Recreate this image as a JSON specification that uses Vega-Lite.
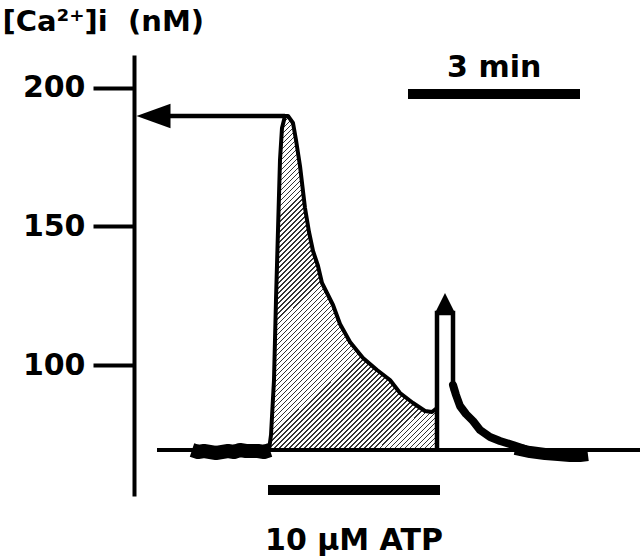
{
  "$schema": "https://vega.github.io/schema/vega-lite/v6.json",
  "width": 506,
  "height": 441,
  "autosize": {"type": "none"},
  "padding": {"left": 134, "top": 55, "right": 0, "bottom": 64},
  "background": "white",
  "config": {"view": {"stroke": null}, "font": "DejaVu Sans"},
  "datasets": {
    "trace": [
      {"seg": "pre", "t": 60.70, "v": 69.31},
      {"seg": "pre", "t": 66.98, "v": 68.59},
      {"seg": "pre", "t": 73.26, "v": 68.95},
      {"seg": "pre", "t": 79.53, "v": 68.59},
      {"seg": "pre", "t": 85.81, "v": 68.23},
      {"seg": "pre", "t": 92.09, "v": 68.59},
      {"seg": "pre", "t": 98.37, "v": 68.95},
      {"seg": "pre", "t": 104.65, "v": 68.59},
      {"seg": "pre", "t": 110.93, "v": 69.31},
      {"seg": "pre", "t": 117.21, "v": 68.95},
      {"seg": "pre", "t": 123.49, "v": 68.95},
      {"seg": "pre", "t": 129.77, "v": 68.95},
      {"seg": "pre", "t": 136.05, "v": 68.59},
      {"seg": "pre", "t": 142.33, "v": 69.31},
      {"seg": "peak", "t": 141.28, "v": 69.31},
      {"seg": "peak", "t": 143.37, "v": 74.73},
      {"seg": "peak", "t": 146.51, "v": 94.59},
      {"seg": "peak", "t": 148.60, "v": 123.47},
      {"seg": "peak", "t": 150.70, "v": 148.74},
      {"seg": "peak", "t": 152.79, "v": 174.01},
      {"seg": "peak", "t": 154.88, "v": 185.56},
      {"seg": "peak", "t": 158.02, "v": 189.89},
      {"seg": "peak", "t": 161.16, "v": 189.89},
      {"seg": "peak", "t": 166.40, "v": 187.36},
      {"seg": "peak", "t": 169.53, "v": 181.23},
      {"seg": "peak", "t": 173.72, "v": 171.84},
      {"seg": "peak", "t": 178.95, "v": 156.68},
      {"seg": "peak", "t": 183.14, "v": 148.01},
      {"seg": "peak", "t": 187.33, "v": 141.16},
      {"seg": "peak", "t": 192.56, "v": 135.74},
      {"seg": "peak", "t": 196.74, "v": 129.60},
      {"seg": "peak", "t": 201.98, "v": 125.99},
      {"seg": "peak", "t": 208.26, "v": 121.66},
      {"seg": "peak", "t": 215.58, "v": 114.80},
      {"seg": "peak", "t": 226.05, "v": 108.30},
      {"seg": "peak", "t": 239.65, "v": 102.53},
      {"seg": "peak", "t": 254.30, "v": 98.20},
      {"seg": "peak", "t": 267.91, "v": 94.59},
      {"seg": "peak", "t": 278.37, "v": 89.89},
      {"seg": "peak", "t": 291.98, "v": 86.28},
      {"seg": "peak", "t": 304.53, "v": 83.39},
      {"seg": "peak", "t": 311.86, "v": 83.03},
      {"seg": "peak", "t": 317.09, "v": 84.48},
      {"seg": "arrow", "t": 317.09, "v": 69.31},
      {"seg": "arrow", "t": 317.09, "v": 118.77},
      {"seg": "arrow", "t": 333.84, "v": 118.77},
      {"seg": "arrow", "t": 333.84, "v": 90.50},
      {"seg": "post", "t": 333.84, "v": 92.78},
      {"seg": "post", "t": 336.98, "v": 89.17},
      {"seg": "post", "t": 341.16, "v": 85.20},
      {"seg": "post", "t": 347.44, "v": 82.31},
      {"seg": "post", "t": 354.77, "v": 79.78},
      {"seg": "post", "t": 362.09, "v": 76.53},
      {"seg": "post", "t": 372.56, "v": 74.01},
      {"seg": "post", "t": 383.02, "v": 72.56},
      {"seg": "post", "t": 396.63, "v": 71.12},
      {"seg": "post", "t": 409.19, "v": 69.68},
      {"seg": "tail", "t": 398.72, "v": 69.68},
      {"seg": "tail", "t": 414.42, "v": 68.59},
      {"seg": "tail", "t": 430.12, "v": 67.87},
      {"seg": "tail", "t": 443.72, "v": 67.51},
      {"seg": "tail", "t": 456.28, "v": 67.15},
      {"seg": "tail", "t": 466.74, "v": 67.15},
      {"seg": "tail", "t": 475.12, "v": 67.51}
    ]
  },
  "encoding": {
    "x": {"field": "t", "type": "quantitative", "scale": {"domain": [0, 529.53], "nice": false, "zero": false}, "axis": null},
    "y": {
      "field": "v", "type": "quantitative",
      "scale": {"domain": [52.71, 211.91], "nice": false, "zero": false},
      "axis": {
        "values": [100, 150, 200],
        "title": "[Ca\u00b2\u207a]i\u00a0\u00a0(nM)",
        "titleAngle": 0, "titleAlign": "left", "titleBaseline": "alphabetic",
        "titleX": -132, "titleY": -25,
        "titleFont": "DejaVu Sans", "titleFontSize": 29, "titleFontWeight": "bold", "titleColor": "black",
        "domainColor": "black", "domainWidth": 4,
        "tickColor": "black", "tickWidth": 4, "tickSize": 41,
        "labelFont": "DejaVu Sans", "labelFontSize": 30, "labelFontWeight": "bold", "labelColor": "black", "labelPadding": 8,
        "grid": false
      }
    }
  },
  "layer": [
    {
      "data": {"name": "trace"},
      "transform": [{"filter": "datum.seg == 'peak'"}],
      "mark": {
        "type": "area", "opacity": 1,
        "fill": {"gradient": "linear", "x1": 0, "y1": 0, "x2": 0.604, "y2": 1.2, "stops": [
{"offset":0,"color":"#333"},{"offset":0.003,"color":"#333"},{"offset":0.003,"color":"#fff"},{"offset":0.01,"color":"#fff"},
{"offset":0.01,"color":"#333"},{"offset":0.013,"color":"#333"},{"offset":0.013,"color":"#fff"},{"offset":0.02,"color":"#fff"},
{"offset":0.02,"color":"#333"},{"offset":0.023,"color":"#333"},{"offset":0.023,"color":"#fff"},{"offset":0.03,"color":"#fff"},
{"offset":0.03,"color":"#333"},{"offset":0.033,"color":"#333"},{"offset":0.033,"color":"#fff"},{"offset":0.04,"color":"#fff"},
{"offset":0.04,"color":"#333"},{"offset":0.043,"color":"#333"},{"offset":0.043,"color":"#fff"},{"offset":0.05,"color":"#fff"},
{"offset":0.05,"color":"#333"},{"offset":0.053,"color":"#333"},{"offset":0.053,"color":"#fff"},{"offset":0.06,"color":"#fff"},
{"offset":0.06,"color":"#333"},{"offset":0.063,"color":"#333"},{"offset":0.063,"color":"#fff"},{"offset":0.07,"color":"#fff"},
{"offset":0.07,"color":"#333"},{"offset":0.073,"color":"#333"},{"offset":0.073,"color":"#fff"},{"offset":0.08,"color":"#fff"},
{"offset":0.08,"color":"#333"},{"offset":0.083,"color":"#333"},{"offset":0.083,"color":"#fff"},{"offset":0.09,"color":"#fff"},
{"offset":0.09,"color":"#333"},{"offset":0.093,"color":"#333"},{"offset":0.093,"color":"#fff"},{"offset":0.1,"color":"#fff"},
{"offset":0.1,"color":"#333"},{"offset":0.103,"color":"#333"},{"offset":0.103,"color":"#fff"},{"offset":0.11,"color":"#fff"},
{"offset":0.11,"color":"#333"},{"offset":0.113,"color":"#333"},{"offset":0.113,"color":"#fff"},{"offset":0.12,"color":"#fff"},
{"offset":0.12,"color":"#333"},{"offset":0.123,"color":"#333"},{"offset":0.123,"color":"#fff"},{"offset":0.13,"color":"#fff"},
{"offset":0.13,"color":"#333"},{"offset":0.133,"color":"#333"},{"offset":0.133,"color":"#fff"},{"offset":0.14,"color":"#fff"},
{"offset":0.14,"color":"#333"},{"offset":0.143,"color":"#333"},{"offset":0.143,"color":"#fff"},{"offset":0.15,"color":"#fff"},
{"offset":0.15,"color":"#333"},{"offset":0.153,"color":"#333"},{"offset":0.153,"color":"#fff"},{"offset":0.16,"color":"#fff"},
{"offset":0.16,"color":"#333"},{"offset":0.163,"color":"#333"},{"offset":0.163,"color":"#fff"},{"offset":0.17,"color":"#fff"},
{"offset":0.17,"color":"#333"},{"offset":0.173,"color":"#333"},{"offset":0.173,"color":"#fff"},{"offset":0.18,"color":"#fff"},
{"offset":0.18,"color":"#333"},{"offset":0.183,"color":"#333"},{"offset":0.183,"color":"#fff"},{"offset":0.19,"color":"#fff"},
{"offset":0.19,"color":"#333"},{"offset":0.193,"color":"#333"},{"offset":0.193,"color":"#fff"},{"offset":0.2,"color":"#fff"},
{"offset":0.2,"color":"#333"},{"offset":0.203,"color":"#333"},{"offset":0.203,"color":"#fff"},{"offset":0.21,"color":"#fff"},
{"offset":0.21,"color":"#333"},{"offset":0.213,"color":"#333"},{"offset":0.213,"color":"#fff"},{"offset":0.22,"color":"#fff"},
{"offset":0.22,"color":"#333"},{"offset":0.223,"color":"#333"},{"offset":0.223,"color":"#fff"},{"offset":0.23,"color":"#fff"},
{"offset":0.23,"color":"#333"},{"offset":0.233,"color":"#333"},{"offset":0.233,"color":"#fff"},{"offset":0.24,"color":"#fff"},
{"offset":0.24,"color":"#333"},{"offset":0.243,"color":"#333"},{"offset":0.243,"color":"#fff"},{"offset":0.25,"color":"#fff"},
{"offset":0.25,"color":"#333"},{"offset":0.253,"color":"#333"},{"offset":0.253,"color":"#fff"},{"offset":0.26,"color":"#fff"},
{"offset":0.26,"color":"#333"},{"offset":0.263,"color":"#333"},{"offset":0.263,"color":"#fff"},{"offset":0.27,"color":"#fff"},
{"offset":0.27,"color":"#333"},{"offset":0.273,"color":"#333"},{"offset":0.273,"color":"#fff"},{"offset":0.28,"color":"#fff"},
{"offset":0.28,"color":"#333"},{"offset":0.283,"color":"#333"},{"offset":0.283,"color":"#fff"},{"offset":0.29,"color":"#fff"},
{"offset":0.29,"color":"#333"},{"offset":0.293,"color":"#333"},{"offset":0.293,"color":"#fff"},{"offset":0.3,"color":"#fff"},
{"offset":0.3,"color":"#333"},{"offset":0.303,"color":"#333"},{"offset":0.303,"color":"#fff"},{"offset":0.31,"color":"#fff"},
{"offset":0.31,"color":"#333"},{"offset":0.313,"color":"#333"},{"offset":0.313,"color":"#fff"},{"offset":0.32,"color":"#fff"},
{"offset":0.32,"color":"#333"},{"offset":0.323,"color":"#333"},{"offset":0.323,"color":"#fff"},{"offset":0.33,"color":"#fff"},
{"offset":0.33,"color":"#333"},{"offset":0.333,"color":"#333"},{"offset":0.333,"color":"#fff"},{"offset":0.34,"color":"#fff"},
{"offset":0.34,"color":"#333"},{"offset":0.343,"color":"#333"},{"offset":0.343,"color":"#fff"},{"offset":0.35,"color":"#fff"},
{"offset":0.35,"color":"#333"},{"offset":0.353,"color":"#333"},{"offset":0.353,"color":"#fff"},{"offset":0.36,"color":"#fff"},
{"offset":0.36,"color":"#333"},{"offset":0.363,"color":"#333"},{"offset":0.363,"color":"#fff"},{"offset":0.37,"color":"#fff"},
{"offset":0.37,"color":"#333"},{"offset":0.373,"color":"#333"},{"offset":0.373,"color":"#fff"},{"offset":0.38,"color":"#fff"},
{"offset":0.38,"color":"#333"},{"offset":0.383,"color":"#333"},{"offset":0.383,"color":"#fff"},{"offset":0.39,"color":"#fff"},
{"offset":0.39,"color":"#333"},{"offset":0.393,"color":"#333"},{"offset":0.393,"color":"#fff"},{"offset":0.4,"color":"#fff"},
{"offset":0.4,"color":"#333"},{"offset":0.403,"color":"#333"},{"offset":0.403,"color":"#fff"},{"offset":0.41,"color":"#fff"},
{"offset":0.41,"color":"#333"},{"offset":0.413,"color":"#333"},{"offset":0.413,"color":"#fff"},{"offset":0.42,"color":"#fff"},
{"offset":0.42,"color":"#333"},{"offset":0.423,"color":"#333"},{"offset":0.423,"color":"#fff"},{"offset":0.43,"color":"#fff"},
{"offset":0.43,"color":"#333"},{"offset":0.433,"color":"#333"},{"offset":0.433,"color":"#fff"},{"offset":0.44,"color":"#fff"},
{"offset":0.44,"color":"#333"},{"offset":0.443,"color":"#333"},{"offset":0.443,"color":"#fff"},{"offset":0.45,"color":"#fff"},
{"offset":0.45,"color":"#333"},{"offset":0.453,"color":"#333"},{"offset":0.453,"color":"#fff"},{"offset":0.46,"color":"#fff"},
{"offset":0.46,"color":"#333"},{"offset":0.463,"color":"#333"},{"offset":0.463,"color":"#fff"},{"offset":0.47,"color":"#fff"},
{"offset":0.47,"color":"#333"},{"offset":0.473,"color":"#333"},{"offset":0.473,"color":"#fff"},{"offset":0.48,"color":"#fff"},
{"offset":0.48,"color":"#333"},{"offset":0.483,"color":"#333"},{"offset":0.483,"color":"#fff"},{"offset":0.49,"color":"#fff"},
{"offset":0.49,"color":"#333"},{"offset":0.493,"color":"#333"},{"offset":0.493,"color":"#fff"},{"offset":0.5,"color":"#fff"},
{"offset":0.5,"color":"#333"},{"offset":0.503,"color":"#333"},{"offset":0.503,"color":"#fff"},{"offset":0.51,"color":"#fff"},
{"offset":0.51,"color":"#333"},{"offset":0.513,"color":"#333"},{"offset":0.513,"color":"#fff"},{"offset":0.52,"color":"#fff"},
{"offset":0.52,"color":"#333"},{"offset":0.523,"color":"#333"},{"offset":0.523,"color":"#fff"},{"offset":0.53,"color":"#fff"},
{"offset":0.53,"color":"#333"},{"offset":0.533,"color":"#333"},{"offset":0.533,"color":"#fff"},{"offset":0.54,"color":"#fff"},
{"offset":0.54,"color":"#333"},{"offset":0.543,"color":"#333"},{"offset":0.543,"color":"#fff"},{"offset":0.55,"color":"#fff"},
{"offset":0.55,"color":"#333"},{"offset":0.553,"color":"#333"},{"offset":0.553,"color":"#fff"},{"offset":0.56,"color":"#fff"},
{"offset":0.56,"color":"#333"},{"offset":0.563,"color":"#333"},{"offset":0.563,"color":"#fff"},{"offset":0.57,"color":"#fff"},
{"offset":0.57,"color":"#333"},{"offset":0.573,"color":"#333"},{"offset":0.573,"color":"#fff"},{"offset":0.58,"color":"#fff"},
{"offset":0.58,"color":"#333"},{"offset":0.583,"color":"#333"},{"offset":0.583,"color":"#fff"},{"offset":0.59,"color":"#fff"},
{"offset":0.59,"color":"#333"},{"offset":0.593,"color":"#333"},{"offset":0.593,"color":"#fff"},{"offset":0.6,"color":"#fff"},
{"offset":0.6,"color":"#333"},{"offset":0.603,"color":"#333"},{"offset":0.603,"color":"#fff"},{"offset":0.61,"color":"#fff"},
{"offset":0.61,"color":"#333"},{"offset":0.613,"color":"#333"},{"offset":0.613,"color":"#fff"},{"offset":0.62,"color":"#fff"},
{"offset":0.62,"color":"#333"},{"offset":0.623,"color":"#333"},{"offset":0.623,"color":"#fff"},{"offset":0.63,"color":"#fff"},
{"offset":0.63,"color":"#333"},{"offset":0.633,"color":"#333"},{"offset":0.633,"color":"#fff"},{"offset":0.64,"color":"#fff"},
{"offset":0.64,"color":"#333"},{"offset":0.643,"color":"#333"},{"offset":0.643,"color":"#fff"},{"offset":0.65,"color":"#fff"},
{"offset":0.65,"color":"#333"},{"offset":0.653,"color":"#333"},{"offset":0.653,"color":"#fff"},{"offset":0.66,"color":"#fff"},
{"offset":0.66,"color":"#333"},{"offset":0.663,"color":"#333"},{"offset":0.663,"color":"#fff"},{"offset":0.67,"color":"#fff"},
{"offset":0.67,"color":"#333"},{"offset":0.673,"color":"#333"},{"offset":0.673,"color":"#fff"},{"offset":0.68,"color":"#fff"},
{"offset":0.68,"color":"#333"},{"offset":0.683,"color":"#333"},{"offset":0.683,"color":"#fff"},{"offset":0.69,"color":"#fff"},
{"offset":0.69,"color":"#333"},{"offset":0.693,"color":"#333"},{"offset":0.693,"color":"#fff"},{"offset":0.7,"color":"#fff"},
{"offset":0.7,"color":"#333"},{"offset":0.703,"color":"#333"},{"offset":0.703,"color":"#fff"},{"offset":0.71,"color":"#fff"},
{"offset":0.71,"color":"#333"},{"offset":0.713,"color":"#333"},{"offset":0.713,"color":"#fff"},{"offset":0.72,"color":"#fff"},
{"offset":0.72,"color":"#333"},{"offset":0.723,"color":"#333"},{"offset":0.723,"color":"#fff"},{"offset":0.73,"color":"#fff"},
{"offset":0.73,"color":"#333"},{"offset":0.733,"color":"#333"},{"offset":0.733,"color":"#fff"},{"offset":0.74,"color":"#fff"},
{"offset":0.74,"color":"#333"},{"offset":0.743,"color":"#333"},{"offset":0.743,"color":"#fff"},{"offset":0.75,"color":"#fff"},
{"offset":0.75,"color":"#333"},{"offset":0.753,"color":"#333"},{"offset":0.753,"color":"#fff"},{"offset":0.76,"color":"#fff"},
{"offset":0.76,"color":"#333"},{"offset":0.763,"color":"#333"},{"offset":0.763,"color":"#fff"},{"offset":0.77,"color":"#fff"},
{"offset":0.77,"color":"#333"},{"offset":0.773,"color":"#333"},{"offset":0.773,"color":"#fff"},{"offset":0.78,"color":"#fff"},
{"offset":0.78,"color":"#333"},{"offset":0.783,"color":"#333"},{"offset":0.783,"color":"#fff"},{"offset":0.79,"color":"#fff"},
{"offset":0.79,"color":"#333"},{"offset":0.793,"color":"#333"},{"offset":0.793,"color":"#fff"},{"offset":0.8,"color":"#fff"},
{"offset":0.8,"color":"#333"},{"offset":0.803,"color":"#333"},{"offset":0.803,"color":"#fff"},{"offset":0.81,"color":"#fff"},
{"offset":0.81,"color":"#333"},{"offset":0.813,"color":"#333"},{"offset":0.813,"color":"#fff"},{"offset":0.82,"color":"#fff"},
{"offset":0.82,"color":"#333"},{"offset":0.823,"color":"#333"},{"offset":0.823,"color":"#fff"},{"offset":0.83,"color":"#fff"},
{"offset":0.83,"color":"#333"},{"offset":0.833,"color":"#333"},{"offset":0.833,"color":"#fff"},{"offset":0.84,"color":"#fff"},
{"offset":0.84,"color":"#333"},{"offset":0.843,"color":"#333"},{"offset":0.843,"color":"#fff"},{"offset":0.85,"color":"#fff"},
{"offset":0.85,"color":"#333"},{"offset":0.853,"color":"#333"},{"offset":0.853,"color":"#fff"},{"offset":0.86,"color":"#fff"},
{"offset":0.86,"color":"#333"},{"offset":0.863,"color":"#333"},{"offset":0.863,"color":"#fff"},{"offset":0.87,"color":"#fff"},
{"offset":0.87,"color":"#333"},{"offset":0.873,"color":"#333"},{"offset":0.873,"color":"#fff"},{"offset":0.88,"color":"#fff"},
{"offset":0.88,"color":"#333"},{"offset":0.883,"color":"#333"},{"offset":0.883,"color":"#fff"},{"offset":0.89,"color":"#fff"},
{"offset":0.89,"color":"#333"},{"offset":0.893,"color":"#333"},{"offset":0.893,"color":"#fff"},{"offset":0.9,"color":"#fff"},
{"offset":0.9,"color":"#333"},{"offset":0.903,"color":"#333"},{"offset":0.903,"color":"#fff"},{"offset":0.91,"color":"#fff"},
{"offset":0.91,"color":"#333"},{"offset":0.913,"color":"#333"},{"offset":0.913,"color":"#fff"},{"offset":0.92,"color":"#fff"},
{"offset":0.92,"color":"#333"},{"offset":0.923,"color":"#333"},{"offset":0.923,"color":"#fff"},{"offset":0.93,"color":"#fff"},
{"offset":0.93,"color":"#333"},{"offset":0.933,"color":"#333"},{"offset":0.933,"color":"#fff"},{"offset":0.94,"color":"#fff"},
{"offset":0.94,"color":"#333"},{"offset":0.943,"color":"#333"},{"offset":0.943,"color":"#fff"},{"offset":0.95,"color":"#fff"},
{"offset":0.95,"color":"#333"},{"offset":0.953,"color":"#333"},{"offset":0.953,"color":"#fff"},{"offset":0.96,"color":"#fff"},
{"offset":0.96,"color":"#333"},{"offset":0.963,"color":"#333"},{"offset":0.963,"color":"#fff"},{"offset":0.97,"color":"#fff"},
{"offset":0.97,"color":"#333"},{"offset":0.973,"color":"#333"},{"offset":0.973,"color":"#fff"},{"offset":0.98,"color":"#fff"},
{"offset":0.98,"color":"#333"},{"offset":0.983,"color":"#333"},{"offset":0.983,"color":"#fff"},{"offset":0.99,"color":"#fff"},
{"offset":0.99,"color":"#333"},{"offset":0.993,"color":"#333"},{"offset":0.993,"color":"#fff"},{"offset":1,"color":"#fff"}
        ]}
      },
      "encoding": {"y2": {"datum": 69.31}}
    },
    {
      "data": {"values": [{"t": 24.07, "t2": 529.53, "v": 69.31}]},
      "mark": {"type": "rule", "color": "black", "strokeWidth": 4},
      "encoding": {"x2": {"field": "t2"}}
    },
    {
      "data": {"name": "trace"},
      "transform": [{"filter": "datum.seg == 'pre'"}],
      "mark": {"type": "line", "color": "black", "strokeWidth": 14, "strokeJoin": "round"}
    },
    {
      "data": {"name": "trace"},
      "transform": [{"filter": "datum.seg == 'peak'"}],
      "mark": {"type": "line", "color": "black", "strokeWidth": 4, "strokeJoin": "round"}
    },
    {
      "data": {"name": "trace"},
      "transform": [{"filter": "datum.seg == 'arrow'"}],
      "mark": {"type": "line", "color": "black", "strokeWidth": 4.5, "strokeJoin": "miter"},
      "encoding": {"order": {"value": null}}
    },
    {
      "data": {"name": "trace"},
      "transform": [{"filter": "datum.seg == 'post'"}],
      "mark": {"type": "line", "color": "black", "strokeWidth": 8, "strokeJoin": "round", "strokeCap": "round"}
    },
    {
      "data": {"name": "trace"},
      "transform": [{"filter": "datum.seg == 'tail'"}],
      "mark": {"type": "line", "color": "black", "strokeWidth": 12, "strokeJoin": "round"}
    },
    {
      "data": {"values": [{"t": 16.74, "t2": 158.02, "v": 189.89}]},
      "mark": {"type": "rule", "color": "black", "strokeWidth": 4.5},
      "encoding": {"x2": {"field": "t2"}}
    },
    {
      "data": {"values": [
        {"bar": "10 µM ATP", "t": 140.23, "t2": 320.23, "v": 54.87},
        {"bar": "3 min", "t": 286.74, "t2": 466.74, "v": 197.83}
      ]},
      "mark": {"type": "rule", "color": "black", "strokeWidth": 10},
      "encoding": {"x2": {"field": "t2"}}
    },
    {
      "data": {"values": [{"head": "peak", "t": 20.41, "v": 189.89}]},
      "mark": {"type": "point", "shape": "M-1,0L1,-0.72L1,0.72Z", "size": 1156, "filled": true, "color": "black", "opacity": 1, "strokeWidth": 0}
    },
    {
      "data": {"values": [{"head": "second", "t": 325.47, "v": 122.38}]},
      "mark": {"type": "point", "shape": "M0,-1L1,1L-1,1Z", "size": 400, "filled": true, "color": "black", "opacity": 1, "strokeWidth": 0}
    },
    {
      "data": {"values": [
        {"label": "10 µM ATP", "t": 230.23, "v": 33.21},
        {"label": "3 min", "t": 376.95, "v": 204.08}
      ]},
      "mark": {"type": "text", "font": "DejaVu Sans", "fontSize": 30, "fontWeight": "bold", "color": "black", "align": "center", "baseline": "alphabetic"},
      "encoding": {"text": {"field": "label"}}
    }
  ]
}
